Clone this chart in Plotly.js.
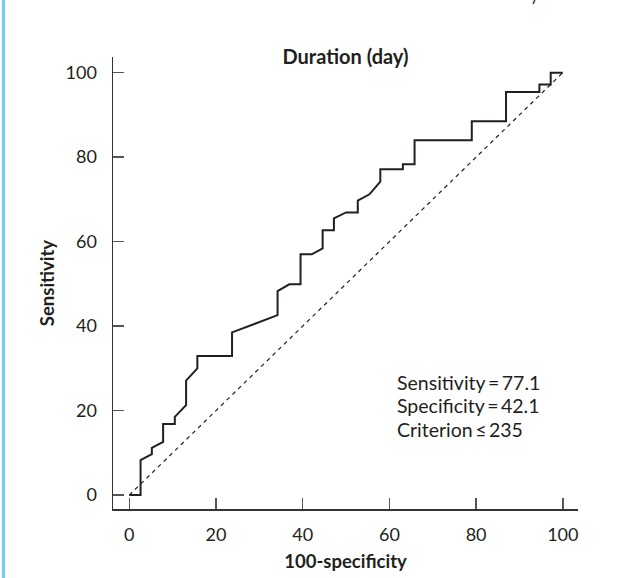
<!DOCTYPE html>
<html>
<head>
<meta charset="utf-8">
<script src="https://cdn.plot.ly/plotly-3.0.1.min.js"></script>
<style>
  html, body { margin: 0; padding: 0; background: #ffffff; }
  #wrap { position: relative; width: 627px; height: 578px; overflow: hidden; }
  #chart { width: 627px; height: 578px; }
  #bar { position: absolute; left: 2px; top: 0; width: 3px; height: 578px; background: #72cdf2; }
</style>
</head>
<body>
<div id="wrap">
  <div id="chart"></div>
  <div id="bar"></div>
</div>
<script>
// ROC curve
const rocX = [0, 2.6, 2.6, 5.2, 5.2, 7.8, 7.8, 10.5, 10.5, 13.1, 13.1, 15.7, 15.7, 23.7, 23.7, 34.2, 34.2, 36.9, 39.5, 39.5, 42.1, 44.6, 44.6, 47.2, 47.2, 50.0, 52.7, 52.7, 55.4, 57.9, 57.9, 63.1, 63.1, 65.8, 65.8, 79.0, 79.0, 86.9, 86.9, 94.6, 94.6, 97.2, 97.2, 100];
const rocY = [0, 0, 8.3, 9.7, 11.2, 12.6, 16.8, 16.8, 18.5, 21.3, 27.1, 30.0, 32.9, 32.9, 38.5, 42.6, 48.3, 49.9, 49.9, 57.0, 57.0, 58.4, 62.7, 62.7, 65.5, 66.9, 66.9, 69.7, 71.2, 74.2, 77.1, 77.1, 78.3, 78.3, 84.0, 84.0, 88.5, 88.5, 95.4, 95.4, 97.2, 97.2, 100, 100];
const refX = [0, 100];
const refY = [0, 100];
const tickVals = [0, 20, 40, 60, 80, 100];
const tickText = ["0", "20", "40", "60", "80", "100"];
const chartTitle = "Duration (day)";
const xTitle = "100-specificity";
const yTitle = "Sensitivity";
const statLines = ["Sensitivity\u2009=\u200977.1", "Specificity\u2009=\u200942.1", "Criterion\u2009\u2264\u2009235"];
const statY = [26.6, 21.1, 15.5];

const FONT = "Lato, 'Noto Sans', sans-serif";
const INK = "#231f20";

const traces = [
  { x: refX, y: refY, type: "scatter", mode: "lines",
    line: { color: INK, width: 1.2, dash: "4px,4px" }, hoverinfo: "skip" },
  { x: rocX, y: rocY, type: "scatter", mode: "lines",
    line: { color: INK, width: 2 }, hoverinfo: "skip" }
];

const axisCommon = {
  tickmode: "array", tickvals: tickVals, ticktext: tickText,
  ticks: "inside", ticklen: 11, tickwidth: 1.5, tickcolor: "#555",
  showline: true, linecolor: "#333", linewidth: 1.5,
  showgrid: false, zeroline: false,
  tickfont: { family: FONT, size: 18, color: INK },
  fixedrange: true
};

const statAnnots = statLines.map((t, i) => ({
  x: 61.4, y: statY[i], xref: "x", yref: "y", xanchor: "left", yanchor: "middle", align: "left",
  showarrow: false, text: t, font: { family: FONT, size: 19.5, color: INK }
}));

const layout = {
  width: 627, height: 578,
  margin: { l: 113, r: 49, t: 57, b: 69 },
  paper_bgcolor: "#ffffff", plot_bgcolor: "#ffffff",
  showlegend: false,
  title: { text: "<b>" + chartTitle + "</b>", x: 0.5, xref: "paper",
           y: 1 - 57 / 578, yref: "container", yanchor: "middle",
           font: { family: FONT, size: 20, color: INK } },
  xaxis: Object.assign({}, axisCommon, {
    range: [-3.76, 103.5], ticklabelstandoff: 9,
    title: { text: "<b>" + xTitle + "</b>", standoff: 11, font: { family: FONT, size: 18.5, color: INK } }
  }),
  yaxis: Object.assign({}, axisCommon, {
    range: [-3.3, 103.7], ticklabelstandoff: 11,
    title: { text: "<b>" + yTitle + "</b>", standoff: 6, font: { family: FONT, size: 18.5, color: INK } }
  }),
  annotations: statAnnots.concat([
    { x: 0.905, y: 1.135, xref: "paper", yref: "paper", xanchor: "center", yanchor: "middle",
      showarrow: false, text: ")", font: { family: FONT, size: 16, color: INK } }
  ])
};

Plotly.newPlot("chart", traces, layout, { displayModeBar: false, staticPlot: true });
</script>
</body>
</html>
